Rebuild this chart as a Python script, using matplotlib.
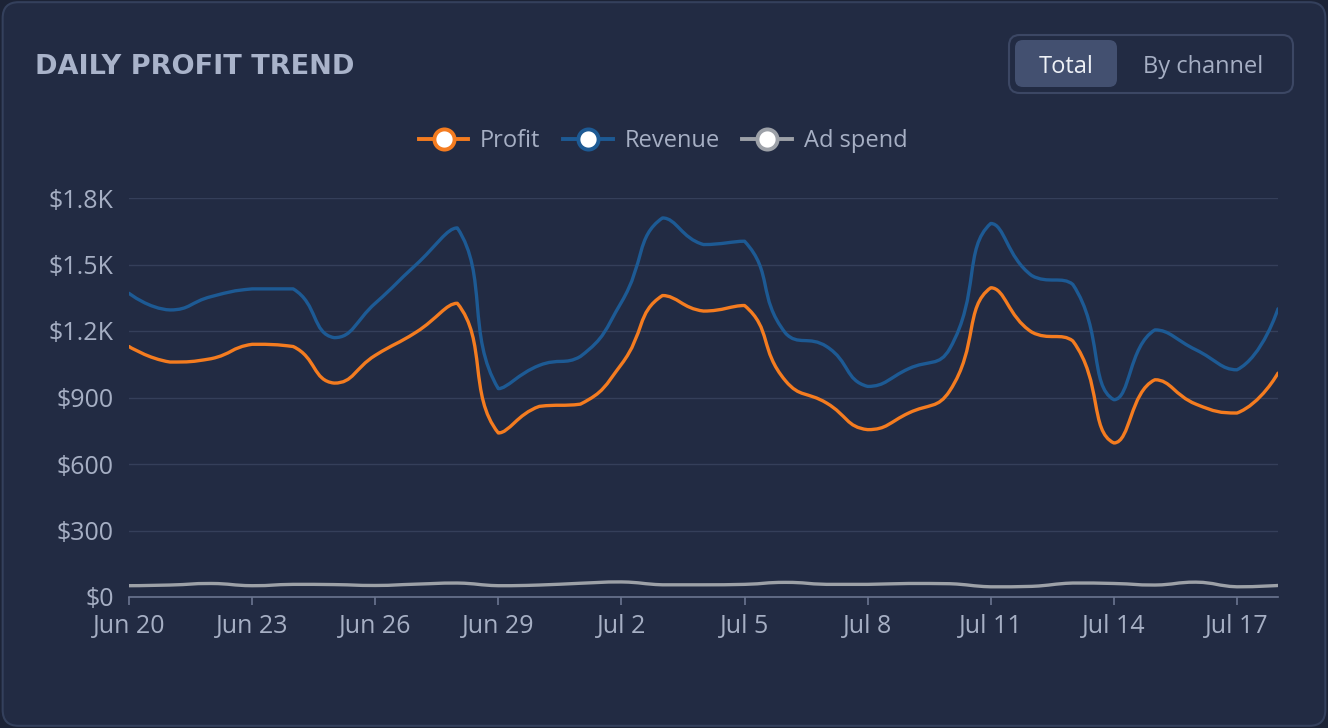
import numpy as np
import matplotlib
matplotlib.use("Agg")
import matplotlib.pyplot as plt
import matplotlib.dates as mdates
from matplotlib.path import Path
from matplotlib.patches import PathPatch, FancyBboxPatch
from matplotlib.lines import Line2D

# ---------------------------------------------------------------------------
# Data
# ---------------------------------------------------------------------------
dates = np.arange("2024-06-20", "2024-07-19", dtype="datetime64[D]")

profit = [1130, 1060, 1075, 1140, 1130, 965, 1090, 1195, 1325, 740,
          860, 870, 1050, 1360, 1290, 1315, 975, 875, 755, 830,
          930, 1395, 1195, 1155, 695, 980, 870, 830, 1010]
revenue = [1370, 1295, 1355, 1390, 1390, 1170, 1325, 1500, 1665, 940,
           1045, 1085, 1330, 1710, 1590, 1605, 1190, 1130, 950, 1030,
           1120, 1685, 1450, 1410, 890, 1205, 1115, 1025, 1300]
ad_spend = [51, 54, 61, 51, 57, 56, 52, 58, 63, 51,
            54, 62, 68, 55, 55, 57, 66, 57, 57, 61,
            60, 46, 48, 63, 61, 54, 67, 46, 52]

series_names = ["Profit", "Revenue", "Ad spend"]
series_colors = ["#f47c20", "#1d5a94", "#9da1a8"]

tick_dates = dates[::3]
tick_labels = ["Jun 20", "Jun 23", "Jun 26", "Jun 29", "Jul 2",
               "Jul 5", "Jul 8", "Jul 11", "Jul 14", "Jul 17"]
y_ticks = [0, 300, 600, 900, 1200, 1500, 1800]
y_labels = ["$0", "$300", "$600", "$900", "$1.2K", "$1.5K", "$1.8K"]

BG = "#222b43"
GRID = "#353f5a"
TEXT = "#a6afc4"
FONT = "Open Sans"


def smooth_path(x, y, sx, sy, k=0.5):
    """Cubic bezier through the points (echarts-like smoothing)."""
    P = np.column_stack([np.asarray(x, float) * sx, np.asarray(y, float) * sy])
    n = len(P)
    cin = P.copy()
    cout = P.copy()
    for i in range(1, n - 1):
        v = (P[i + 1] - P[i - 1]) * k
        d0 = np.hypot(*(P[i] - P[i - 1]))
        d1 = np.hypot(*(P[i + 1] - P[i]))
        r = d0 / (d0 + d1)
        cin[i] = P[i] - v * r
        cout[i] = P[i] + v * (1 - r)
        lo, hi = sorted([P[i - 1, 1], P[i, 1]])
        cin[i, 1] = np.clip(cin[i, 1], lo, hi)
        lo, hi = sorted([P[i, 1], P[i + 1, 1]])
        cout[i, 1] = np.clip(cout[i, 1], lo, hi)
    verts = [P[0]]
    codes = [Path.MOVETO]
    for i in range(n - 1):
        verts += [cout[i], cin[i + 1], P[i + 1]]
        codes += [Path.CURVE4] * 3
    verts = np.array(verts) / [sx, sy]
    return Path(verts, codes)


fig = plt.figure(figsize=(13.28, 7.28), dpi=100)
fig.patch.set_facecolor("#1c2336")
card = FancyBboxPatch((0.002, 0.003), 0.996, 0.994,
                      boxstyle="round,pad=0,rounding_size=0.012",
                      transform=fig.transFigure, facecolor=BG,
                      edgecolor="#34405c", lw=1.5,
                      mutation_aspect=1328 / 728, zorder=-10)
fig.patches.append(card)

ax = fig.add_axes([129 / 1328, 1 - 597 / 728, 1149 / 1328, 399 / 728])
ax.set_facecolor("none")

xnum = mdates.date2num(dates)
for vals, color in zip([profit, revenue, ad_spend], series_colors):
    path = smooth_path(xnum, vals, 41.0, 0.2217)
    ax.add_patch(PathPatch(path, facecolor="none", edgecolor=color, lw=2.4,
                           capstyle="round", joinstyle="round", zorder=3))

ax.set_xlim(xnum[0], xnum[-1])
ax.set_ylim(0, 1800)
ax.set_yticks(y_ticks)
ax.set_yticklabels(y_labels)
ax.set_xticks(mdates.date2num(tick_dates))
ax.set_xticklabels(tick_labels)
ax.grid(axis="y", color=GRID, lw=1)
ax.set_axisbelow(True)
for s in ["top", "right", "left"]:
    ax.spines[s].set_visible(False)
ax.spines["bottom"].set_color("#6b7590")
ax.spines["bottom"].set_linewidth(1.2)
ax.tick_params(axis="y", length=0, pad=11, labelsize=18, labelcolor=TEXT)
ax.tick_params(axis="x", length=6, width=1.2, color="#6b7590", pad=6,
               labelsize=18, labelcolor=TEXT)
for lab in ax.get_xticklabels() + ax.get_yticklabels():
    lab.set_fontfamily(FONT)

# legend
handles = [Line2D([], [], color=c, lw=2.8, marker="o", ms=14.5,
                  markerfacecolor="white", markeredgecolor=c, mew=2.8)
           for c in series_colors]
leg = fig.legend(handles, series_names, loc="center",
                 bbox_to_anchor=(663 / 1328, 1 - 141 / 728), ncol=3,
                 frameon=False, handlelength=2.1, handletextpad=0.5,
                 columnspacing=0.95, prop={"family": FONT, "size": 17})
for t in leg.get_texts():
    t.set_color(TEXT)

# title
fig.text(35 / 1328, 1 - 67 / 728, "DAILY PROFIT TREND", ha="left",
         va="center", fontsize=19.5, fontweight="bold", color="#a9b3ca",
         family="DejaVu Sans")

# toggle buttons
fig.patches.append(FancyBboxPatch((1009 / 1328, 1 - 93 / 728), 284 / 1328,
                                  58 / 728,
                                  boxstyle="round,pad=0,rounding_size=0.008",
                                  transform=fig.transFigure, facecolor="none",
                                  edgecolor="#3c4764", lw=1.5,
                                  mutation_aspect=1328 / 728))
fig.patches.append(FancyBboxPatch((1015 / 1328, 1 - 87 / 728), 102 / 1328,
                                  47 / 728,
                                  boxstyle="round,pad=0,rounding_size=0.006",
                                  transform=fig.transFigure,
                                  facecolor="#435070", edgecolor="none",
                                  mutation_aspect=1328 / 728))
fig.text(1066 / 1328, 1 - 67 / 728, "Total", ha="center", va="center",
         fontsize=17, color="#eef1f6", family=FONT)
fig.text(1203 / 1328, 1 - 67 / 728, "By channel", ha="center", va="center",
         fontsize=17, color="#a6afc4", family=FONT)

fig.savefig("out.png", dpi=100, facecolor=fig.get_facecolor())
